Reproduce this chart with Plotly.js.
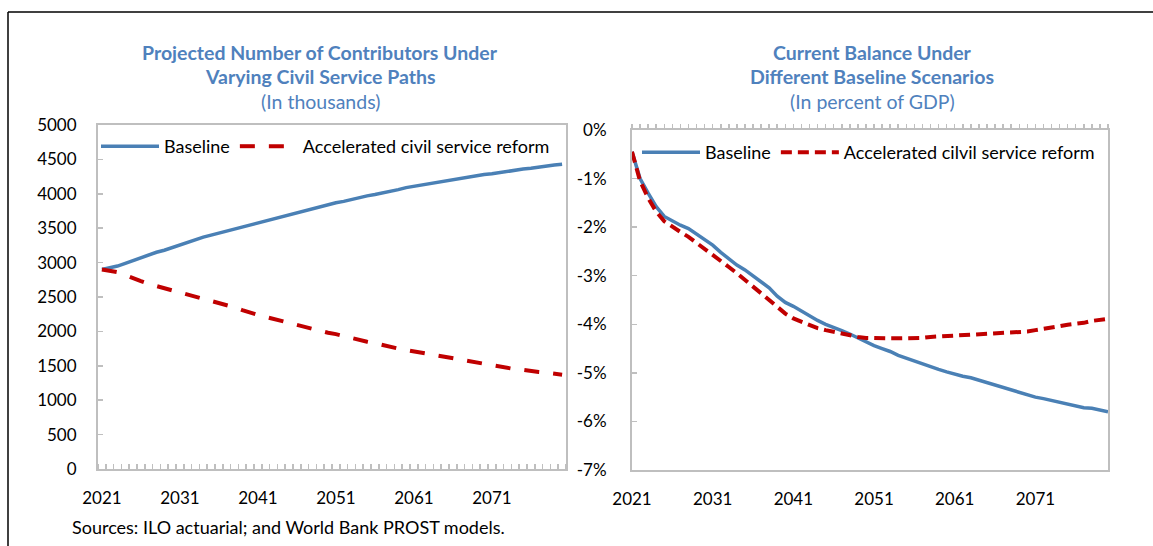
<!DOCTYPE html>
<html>
<head>
<meta charset="utf-8">
<script src="https://cdn.plot.ly/plotly-3.0.1.min.js"></script>
<style>html,body{margin:0;padding:0;background:#fff;}#chart{width:1153px;height:546px;}</style>
</head>
<body>
<div id="chart"></div>
<script>
// ---- Data ----
const years = [];
for (let y = 2021; y <= 2080; y++) years.push(y);

const contribBaseline = [2900,2920,2950,2990,3030,3070,3120,3150,3180,3220,
  3260,3300,3330,3370,3400,3430,3460,3490,3520,3550,
  3580,3610,3640,3670,3700,3730,3760,3790,3810,3840,
  3870,3890,3920,3940,3970,3990,4010,4040,4060,4090,
  4110,4130,4150,4170,4190,4210,4230,4240,4260,4280,
  4290,4310,4330,4340,4360,4370,4390,4400,4420,4430];

const contribAccelerated = [2900,2880,2860,2820,2770,2730,2690,2660,2630,2600,
  2570,2530,2500,2470,2440,2410,2380,2350,2310,2270,
  2240,2210,2180,2150,2120,2090,2060,2040,2010,1980,
  1960,1930,1900,1880,1850,1830,1800,1780,1750,1730,
  1710,1680,1660,1640,1620,1600,1580,1560,1540,1520,
  1500,1480,1470,1450,1440,1420,1410,1400,1380,1370];

const balanceBaseline = [-0.45,-1.00,-1.30,-1.58,-1.78,-1.88,-1.96,-2.03,-2.15,-2.26,
  -2.37,-2.52,-2.65,-2.78,-2.88,-3.00,-3.13,-3.25,-3.42,-3.55,
  -3.63,-3.73,-3.82,-3.92,-4.00,-4.06,-4.13,-4.20,-4.28,-4.37,
  -4.44,-4.50,-4.56,-4.64,-4.70,-4.75,-4.82,-4.88,-4.93,-4.98,
  -5.03,-5.07,-5.10,-5.15,-5.21,-5.25,-5.30,-5.35,-5.40,-5.45,
  -5.50,-5.53,-5.57,-5.61,-5.64,-5.68,-5.72,-5.73,-5.77,-5.80];

const balanceAccelerated = [-0.45,-1.05,-1.40,-1.68,-1.88,-2.00,-2.10,-2.20,-2.32,-2.45,
  -2.58,-2.70,-2.82,-2.95,-3.08,-3.22,-3.36,-3.50,-3.65,-3.78,
  -3.88,-3.95,-4.02,-4.08,-4.12,-4.16,-4.20,-4.23,-4.26,-4.28,
  -4.29,-4.29,-4.29,-4.29,-4.29,-4.29,-4.28,-4.26,-4.25,-4.25,
  -4.24,-4.23,-4.22,-4.21,-4.20,-4.19,-4.18,-4.18,-4.17,-4.15,
  -4.12,-4.10,-4.08,-4.04,-4.01,-4.00,-3.97,-3.93,-3.90,-3.89];

const xTickVals = [2021,2031,2041,2051,2061,2071];
const xTickText = ['2021','2031','2041','2051','2061','2071'];
const leftYTicks = [0,500,1000,1500,2000,2500,3000,3500,4000,4500,5000];
const rightYTicks = [0,-1,-2,-3,-4,-5,-6,-7];
const rightYText = ['0%','-1%','-2%','-3%','-4%','-5%','-6%','-7%'];

const leftNames = ['Baseline','Accelerated civil service reform'];
const rightNames = ['Baseline','Accelerated cilvil service reform'];

// ---- Styles ----
const BLUE = '#4a80b5';
const RED = '#c00000';
const FRAME = '#bfbfbf';
const TITLE = '#4f81bd';
const W = 1153, H = 546;
const px = v => v / W;
const py = v => 1 - v / H;
const TF = 19.5; // title font size

const traces = [
  {x: years, y: contribBaseline, name: leftNames[0], type: 'scatter', mode: 'lines',
   line: {color: BLUE, width: 3.5}, xaxis: 'x', yaxis: 'y', legend: 'legend'},
  {x: years, y: contribAccelerated, name: leftNames[1], type: 'scatter', mode: 'lines',
   line: {color: RED, width: 4, dash: '15px,14px'}, xaxis: 'x', yaxis: 'y', legend: 'legend'},
  {x: years, y: balanceBaseline, name: rightNames[0], type: 'scatter', mode: 'lines',
   line: {color: BLUE, width: 3.5}, xaxis: 'x2', yaxis: 'y2', legend: 'legend2'},
  {x: years, y: balanceAccelerated, name: rightNames[1], type: 'scatter', mode: 'lines',
   line: {color: RED, width: 4, dash: '11px,6px'}, xaxis: 'x3', yaxis: 'y2', legend: 'legend2'}
];

const frameAxis = {showline: true, mirror: true, linecolor: FRAME, linewidth: 2,
  showgrid: false, zeroline: false, fixedrange: true};

const titleAnn = (text, x, y) => ({text: text, x: px(x), y: py(y), xref: 'paper', yref: 'paper',
  xanchor: 'center', yanchor: 'middle', showarrow: false, font: {size: TF, color: TITLE}});

const layout = {
  width: W, height: H,
  margin: {l: 0, r: 0, t: 0, b: 0},
  paper_bgcolor: '#fff', plot_bgcolor: '#fff',
  font: {family: 'Lato, "Open Sans", sans-serif', size: 17, color: '#000'},
  showlegend: true,
  xaxis: Object.assign({}, frameAxis, {
    domain: [px(98), px(566)], anchor: 'y', range: [2020.5, 2080.5],
    tickmode: 'array', tickvals: xTickVals, ticktext: xTickText, ticks: '',
    ticklabelstandoff: 13,
    minor: {tickmode: 'linear', tick0: 2020.5, dtick: 1, ticks: 'inside', ticklen: 5,
            tickcolor: FRAME, tickwidth: 1.5, showgrid: false}
  }),
  yaxis: Object.assign({}, frameAxis, {
    domain: [py(469), py(125)], anchor: 'x', range: [0, 5000],
    tickmode: 'array', tickvals: leftYTicks, ticks: 'inside', ticklen: 5,
    tickcolor: FRAME, tickwidth: 1.5, ticklabelstandoff: 16
  }),
  xaxis2: Object.assign({}, frameAxis, {
    domain: [px(632), px(1108)], anchor: 'y2', range: [2021, 2080],
    tickmode: 'array', tickvals: xTickVals, ticktext: xTickText, ticks: '',
    ticklabelstandoff: 13
  }),
  xaxis3: {
    overlaying: 'x2', anchor: 'y2', side: 'top', range: [2021, 2080],
    tickmode: 'linear', tick0: 2021, dtick: 1, ticks: 'outside', ticklen: 5,
    tickcolor: FRAME, tickwidth: 1.5, showticklabels: false, showline: false,
    showgrid: false, zeroline: false, fixedrange: true
  },
  yaxis2: Object.assign({}, frameAxis, {
    domain: [py(470), py(130)], anchor: 'x2', range: [-7, 0],
    tickmode: 'array', tickvals: rightYTicks, ticktext: rightYText, ticks: 'inside', ticklen: 5,
    tickcolor: FRAME, tickwidth: 1.5, ticklabelstandoff: 20
  }),
  legend: {
    orientation: 'h', x: px(96), y: py(128), xanchor: 'left', yanchor: 'top',
    itemwidth: 58, bgcolor: 'rgba(0,0,0,0)', font: {size: 18, color: '#000'},
    tracegroupgap: 0, itemclick: false
  },
  legend2: {
    orientation: 'h', x: px(637), y: py(134), xanchor: 'left', yanchor: 'top',
    itemwidth: 58, bgcolor: 'rgba(0,0,0,0)', font: {size: 18, color: '#000'},
    tracegroupgap: 0, itemclick: false
  },
  annotations: [
    titleAnn('<b>Projected Number of Contributors Under</b>', 320, 53),
    titleAnn('<b>Varying Civil Service Paths</b>', 320, 77),
    titleAnn('(In thousands)', 320, 101),
    titleAnn('<b>Current Balance Under</b>', 872, 53),
    titleAnn('<b>Different Baseline Scenarios</b>', 872, 77),
    titleAnn('(In percent of GDP)', 872, 101),
    {text: 'Sources: ILO actuarial; and World Bank PROST models.', x: px(70), y: py(527),
     xref: 'paper', yref: 'paper', xanchor: 'left', yanchor: 'middle', showarrow: false,
     font: {size: 18, color: '#000'}}
  ],
  shapes: [
    {type: 'line', xref: 'paper', yref: 'paper', x0: px(8), x1: 1, y0: py(12), y1: py(12),
     line: {color: '#000', width: 1.5}},
    {type: 'line', xref: 'paper', yref: 'paper', x0: px(8), x1: px(8), y0: py(12), y1: 0,
     line: {color: '#000', width: 1.5}}
  ]
};

Plotly.newPlot('chart', traces, layout, {displayModeBar: false, staticPlot: true});
</script>
</body>
</html>
